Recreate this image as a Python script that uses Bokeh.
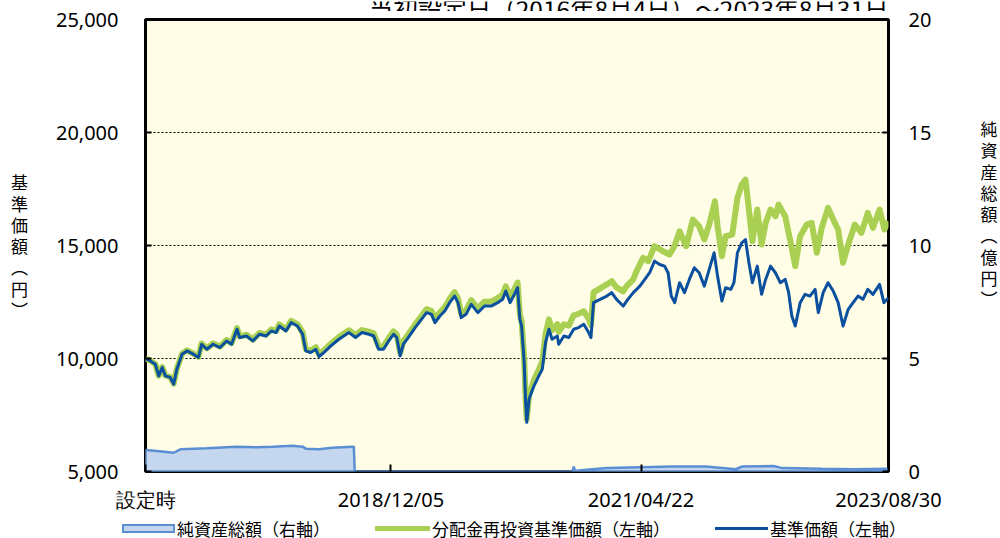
import pandas as pd
from bokeh.plotting import figure
from bokeh.layouts import column
from bokeh.models import (Range1d, LinearAxis, FixedTicker, NumeralTickFormatter, Label, Div)
from bokeh.embed import file_html
from bokeh.resources import INLINE

# ---------------- data ----------------
LAUNCH = "2016-08-04"
END = "2023-08-30"
TITLE = "当初設定日（2016年8月4日）～2023年8月31日"
LEFT_LABEL = "基準価額（円）"
RIGHT_LABEL = "純資産総額（億円）"
tick_dates = ["2016-08-04", "2018-12-05", "2021-04-22", "2023-08-30"]
tick_labels = ["設定時", "2018/12/05", "2021/04/22", "2023/08/30"]
left_ticks = [5000, 10000, 15000, 20000, 25000]
right_ticks = [0, 5, 10, 15, 20]
series_names = ["純資産総額（右軸）", "分配金再投資基準価額（左軸）", "基準価額（左軸）"]

# 基準価額 (円): days since launch / value
nav_day = [0, 17, 34, 46, 58, 69, 86, 98, 109, 127, 144, 166, 184, 195, 213, 235, 259, 282, 299,
           318, 327, 351, 373, 396, 419, 437, 454, 465, 488, 506, 528, 546, 557, 574, 592, 603,
           620, 644, 672, 707, 730, 752, 776, 793, 810, 827, 845, 862, 873, 885, 896, 913, 937,
           959, 977, 994, 1006, 1023, 1040, 1057, 1074, 1086, 1097, 1114, 1132, 1155, 1178, 1201,
           1224, 1241, 1252, 1267, 1279, 1293, 1301, 1307, 1316, 1321, 1325, 1333, 1350, 1367,
           1379, 1390, 1402, 1413, 1431, 1436, 1454, 1471, 1488, 1505, 1523, 1540, 1548, 1557,
           1580, 1603, 1620, 1637, 1660, 1672, 1695, 1718, 1735, 1752, 1769, 1787, 1804, 1816,
           1827, 1839, 1856, 1873, 1890, 1907, 1924, 1942, 1959, 1976, 1988, 2003, 2016, 2034,
           2045, 2057, 2072, 2085, 2097, 2109, 2126, 2141, 2155, 2172, 2189, 2206, 2223, 2235,
           2246, 2258, 2275, 2292, 2309, 2327, 2338, 2355, 2372, 2390, 2407, 2424, 2442, 2459,
           2476, 2493, 2510, 2528, 2551, 2566, 2582]
nav = [10000, 9894, 9748, 9232, 9603, 9232, 9162, 8866, 9528, 10190, 10335, 10190, 10044, 10631,
       10410, 10631, 10485, 10777, 10631, 11293, 10927, 10997, 10777, 11072, 10997, 11218, 11147,
       11439, 11218, 11589, 11439, 11072, 10335, 10265, 10410, 10088, 10265, 10556, 10852, 11147,
       10927, 11147, 11072, 10997, 10410, 10410, 10777, 11072, 10927, 10115, 10631, 10927, 11368,
       11734, 12030, 11955, 11589, 11880, 12101, 12471, 12763, 12471, 11809, 11955, 12396, 12030,
       12321, 12321, 12471, 12617, 12983, 12471, 12763, 13133, 11734, 11439, 9823, 8058, 7176,
       8204, 8791, 9232, 9528, 10706, 11293, 10852, 10997, 10631, 10997, 10927, 11293, 11368,
       11514, 11147, 10927, 12471, 12617, 12763, 12913, 12617, 12321, 12542, 12913, 13204, 13500,
       13795, 14307, 14161, 14086, 13795, 12763, 12471, 13354, 12913, 13500, 14016, 13795, 13204,
       13941, 14678, 13645, 12542, 13133, 13058, 13354, 14678, 15119, 15265, 14236, 13354, 14086,
       12838, 13500, 14086, 13795, 13354, 13500, 12913, 11880, 11439, 12471, 12838, 12763, 13058,
       12030, 12913, 13354, 12983, 12471, 11439, 12176, 12471, 12763, 12617, 13058, 12838, 13279,
       12471, 12692]

# 分配金再投資基準価額 (円)
reinv_day = [0, 17, 34, 46, 58, 69, 86, 98, 109, 127, 144, 166, 184, 195, 213, 235, 259, 282,
             299, 318, 327, 351, 373, 396, 419, 437, 454, 465, 488, 506, 528, 546, 557, 574, 592,
             603, 620, 644, 672, 707, 730, 752, 776, 793, 810, 827, 845, 862, 873, 885, 896, 913,
             937, 959, 977, 994, 1006, 1023, 1040, 1057, 1074, 1086, 1097, 1114, 1132, 1155, 1178,
             1201, 1224, 1241, 1252, 1267, 1279, 1293, 1301, 1307, 1316, 1321, 1325, 1333, 1350,
             1367, 1379, 1390, 1402, 1413, 1431, 1436, 1454, 1471, 1488, 1505, 1523, 1540, 1548,
             1557, 1580, 1603, 1620, 1637, 1660, 1672, 1695, 1706, 1729, 1747, 1769, 1798, 1821,
             1838, 1856, 1879, 1902, 1924, 1942, 1959, 1979, 1988, 2003, 2016, 2039, 2057, 2072,
             2085, 2097, 2109, 2126, 2141, 2155, 2172, 2189, 2200, 2223, 2241, 2258, 2275, 2298,
             2315, 2333, 2350, 2372, 2390, 2407, 2424, 2442, 2465, 2488, 2510, 2528, 2551, 2568,
             2582]
reinv = [10000, 9900, 9760, 9245, 9620, 9250, 9180, 8885, 9550, 10215, 10362, 10220, 10075, 10665,
         10446, 10670, 10527, 10822, 10678, 11343, 10978, 11052, 10834, 11132, 11060, 11284, 11215,
         11510, 11292, 11665, 11518, 11153, 10418, 10350, 10498, 10178, 10357, 10652, 10952, 11252,
         11035, 11258, 11186, 11114, 10530, 10532, 10903, 11200, 11058, 10248, 10767, 11066, 11512,
         11882, 12182, 12110, 11745, 12040, 12265, 12640, 12936, 12645, 11985, 12135, 12580, 12218,
         12515, 12520, 12675, 12826, 13197, 12690, 12987, 13362, 11940, 11640, 10000, 8210, 7320,
         8380, 9050, 9520, 9880, 11072, 11734, 11250, 11514, 11180, 11514, 11450, 11911, 11980,
         12087, 11760, 11470, 12926, 13100, 13279, 13420, 13146, 12970, 13200, 13500, 13852, 14457,
         14307, 14969, 14748, 14603, 14969, 15631, 14969, 16147, 15852, 15265, 15927, 16955, 15852,
         14528, 15410, 15485, 17105, 17692, 17913, 16589, 15190, 16589, 15044, 16002, 16589, 16293,
         16809, 16293, 15190, 14086, 15410, 15927, 16002, 14678, 15781, 16664, 16147, 15706, 14236,
         15044, 15927, 15560, 16443, 15781, 16589, 15706, 16072]

# 純資産総額 (億円)
assets_day = [0, 40, 98, 121, 213, 316, 385, 442, 511, 546, 557, 603, 649, 718, 724, 727, 1484,
              1488, 1493, 1500, 1523, 1603, 1718, 1833, 1948, 2051, 2074, 2183, 2212, 2350, 2465,
              2582]
assets = [0.95, 0.91, 0.83, 0.98, 1.03, 1.10, 1.07, 1.10, 1.14, 1.10, 1.01, 0.98, 1.05, 1.10,
          1.10, 0.0, 0.0, 0.22, 0.03, 0.03, 0.07, 0.15, 0.19, 0.22, 0.22, 0.10, 0.22, 0.24, 0.15,
          0.12, 0.10, 0.12]

# ---------------- styles ----------------
NUM_FONT = "Noto Sans"
JP_FONT = "Noto Sans CJK JP"
AREA_FILL, AREA_LINE = "#c5d6ef", "#5b8fd3"
GREEN, BLUE = "#a9d052", "#0b4f9f"
W = 1000
BORDER_L, BORDER_R = 145, 106
TITLE_H, MAIN_H, LEGEND_H = 11, 508, 19

launch = pd.Timestamp(LAUNCH)


def day_of(s):
    return (pd.Timestamp(s) - launch).days


def stacked(text, pad_lines=0):
    chars = [{"（": "︵", "）": "︶"}.get(c, c) for c in text]
    return "\n".join(chars + [" "] * pad_lines)


# ---------------- title strip (its top is cut off by the page edge) ----------------
ft = figure(width=W, height=TITLE_H, x_range=Range1d(BORDER_L, W - BORDER_R),
            y_range=Range1d(0, TITLE_H), output_backend="svg", toolbar_location=None,
            min_border_left=BORDER_L, min_border_right=BORDER_R, min_border_top=0,
            min_border_bottom=0, x_axis_location=None, y_axis_location=None)
ft.grid.visible = False
ft.outline_line_color = None
ft.background_fill_color = "white"
ft.border_fill_color = "white"
ft.add_layout(Label(x=W - BORDER_R, y=4, text=TITLE, text_align="right",
                    text_baseline="alphabetic", text_font=JP_FONT, text_font_size="24.5px",
                    text_color="black"))

# ---------------- main chart ----------------
x_end = day_of(END)
tick_x = [day_of(d) for d in tick_dates]

p = figure(width=W, height=MAIN_H, x_range=Range1d(0, x_end), y_range=Range1d(5000, 25000),
           output_backend="svg", toolbar_location=None,
           min_border_left=BORDER_L, min_border_right=BORDER_R, min_border_top=8,
           min_border_bottom=48)
p.extra_y_ranges = {"assets": Range1d(0, 20)}
p.background_fill_color = "#fffde6"
p.border_fill_color = "white"
p.outline_line_color = "black"
p.outline_line_width = 3
p.outline_line_alpha = 1.0

xa = p.xaxis[0]
xa.ticker = FixedTicker(ticks=tick_x)
xa.major_label_overrides = {tx: lab for tx, lab in zip(tick_x, tick_labels)}
xa.major_tick_in = 7
xa.major_tick_out = 0
xa.minor_tick_line_color = None
xa.axis_line_color = None
xa.major_tick_line_color = "black"
xa.major_tick_line_width = 2
xa.major_label_standoff = 14
xa.major_label_text_font = NUM_FONT
xa.major_label_text_font_size = "20px"
xa.major_label_text_color = "black"

ya = p.yaxis[0]
ya.ticker = FixedTicker(ticks=left_ticks)
ya.formatter = NumeralTickFormatter(format="0,0")
ya.major_tick_in = 6
ya.major_tick_out = 0
ya.minor_tick_line_color = None
ya.axis_line_color = None
ya.major_tick_line_color = "black"
ya.major_tick_line_width = 2
ya.major_label_standoff = 27
ya.major_label_text_font = NUM_FONT
ya.major_label_text_font_size = "20px"
ya.major_label_text_color = "black"
ya.axis_label = stacked(LEFT_LABEL)
ya.axis_label_orientation = "horizontal"
ya.axis_label_standoff = 25
ya.axis_label_text_font = JP_FONT
ya.axis_label_text_font_size = "17px"
ya.axis_label_text_font_style = "normal"
ya.axis_label_text_line_height = 0.85
ya.axis_label_text_color = "black"

ra = LinearAxis(y_range_name="assets", ticker=FixedTicker(ticks=right_ticks))
ra.major_tick_in = 6
ra.major_tick_out = 0
ra.minor_tick_line_color = None
ra.axis_line_color = None
ra.major_tick_line_color = "black"
ra.major_tick_line_width = 2
ra.major_label_standoff = 20
ra.major_label_text_font = NUM_FONT
ra.major_label_text_font_size = "20px"
ra.major_label_text_color = "black"
ra.axis_label = stacked(RIGHT_LABEL, pad_lines=3)
ra.axis_label_orientation = "horizontal"
ra.axis_label_standoff = 46
ra.axis_label_text_font = JP_FONT
ra.axis_label_text_font_size = "17px"
ra.axis_label_text_font_style = "normal"
ra.axis_label_text_line_height = 0.85
ra.axis_label_text_color = "black"
p.add_layout(ra, "right")

p.xgrid.grid_line_color = None
p.ygrid.ticker = FixedTicker(ticks=left_ticks)
p.ygrid.grid_line_color = "black"
p.ygrid.grid_line_dash = "2 2"
p.ygrid.grid_line_width = 1

area_x = assets_day + [assets_day[-1], assets_day[0]]
area_y = assets + [0, 0]
p.patch(area_x, area_y, y_range_name="assets", fill_color=AREA_FILL,
        line_color=AREA_LINE, line_width=2.5)
p.line(reinv_day, reinv, line_color=GREEN, line_width=6, line_join="round")
p.line(nav_day, nav, line_color=BLUE, line_width=3, line_join="round")

# ---------------- legend strip (HTML) ----------------
legend_keys = [
    (122, 53, 9, f"background:{AREA_FILL};border:2px solid {AREA_LINE};"),
    (375, 55, 5, f"background:{GREEN};"),
    (715, 53, 3, f"background:{BLUE};"),
]
parts = []
for (kx, kw, kh, style), name in zip(legend_keys, series_names):
    top = (LEGEND_H - kh) / 2
    parts.append(f'<div style="position:absolute;left:{kx}px;top:{top}px;width:{kw}px;'
                 f'height:{kh}px;box-sizing:border-box;{style}"></div>')
    parts.append(f'<div style="position:absolute;left:{kx + kw + 2}px;top:0px;'
                 f'height:{LEGEND_H}px;line-height:{LEGEND_H}px;white-space:nowrap;'
                 f'font-family:\'{JP_FONT}\';font-size:17px;color:black;">{name}</div>')
legend_div = Div(text=f'<div style="position:relative;width:{W}px;height:{LEGEND_H}px;'
                      f'overflow:hidden;">' + "".join(parts) + "</div>",
                 width=W, height=LEGEND_H, margin=(0, 0, 0, 0))

page = column(ft, p, legend_div, spacing=0)
open("out.html", "w").write(file_html(page, INLINE))
